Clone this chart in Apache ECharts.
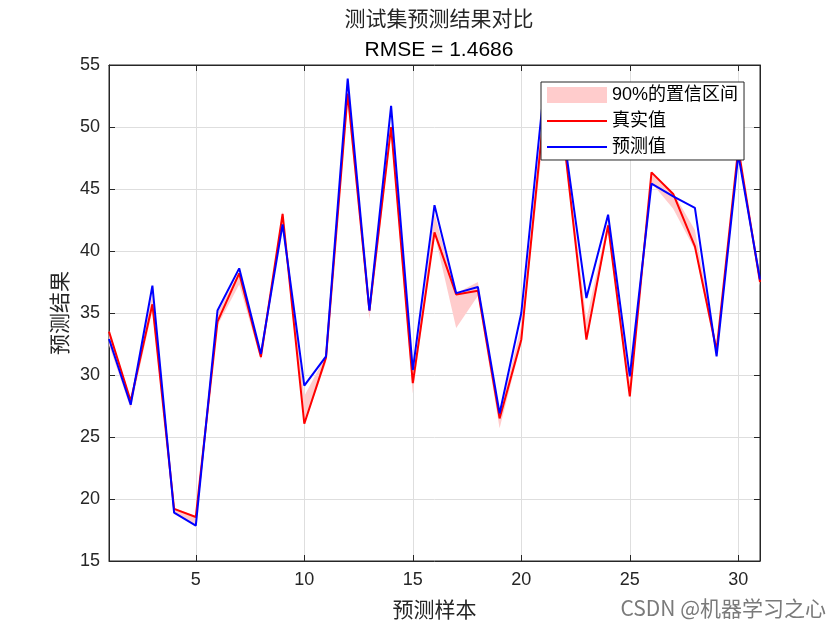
<!DOCTYPE html>
<html>
<head>
<meta charset="utf-8">
<script src="https://cdn.jsdelivr.net/npm/echarts@6/dist/echarts.min.js"></script>
<style>html,body{margin:0;padding:0;background:#fff;}#c{width:840px;height:630px;}</style>
</head>
<body>
<div id="c"></div>
<script>
var samples = [1,2,3,4,5,6,7,8,9,10,11,12,13,14,15,16,17,18,19,20,21,22,23,24,25,26,27,28,29,30,31];
var realValues = [33.5,27.9,35.7,19.2,18.55,34.3,38.2,31.45,43.0,26.07,31.4,52.7,35.2,50.0,29.35,41.5,36.5,36.8,26.5,32.85,50.4,48.4,32.85,42.07,28.27,46.34,44.6,40.37,32.0,48.3,37.5];
var predValues = [32.9,27.6,37.2,18.9,17.85,35.2,38.6,31.7,42.15,29.14,31.5,53.9,35.2,51.7,30.4,43.7,36.6,37.1,26.9,35.0,52.3,48.8,36.2,42.93,29.89,45.43,44.4,43.47,31.5,47.77,37.7];
var ciLower = [32.4,27.3,35.2,18.8,17.9,34.0,37.3,31.2,42.2,26.0,31.0,52.0,34.5,49.5,28.5,41.4,33.8,36.4,25.7,32.6,49.0,47.8,32.8,41.6,28.2,45.5,43.4,40.1,31.5,47.6,37.2];
var ciUpper = [33.6,28.1,36.5,19.3,18.6,35.0,38.3,31.8,43.2,28.3,31.6,53.0,35.4,50.3,29.6,43.0,36.6,37.5,26.8,34.0,51.0,48.8,34.5,42.4,29.5,46.4,44.7,41.7,32.3,48.4,37.8];
var yTicks = [15,20,25,30,35,40,45,50,55];

var ciWidth = ciUpper.map(function(v,i){ return +(v - ciLower[i]).toFixed(3); });
var txt = '#262626';
var every5 = function(i){ return (samples[i] % 5) === 0; };

var chart = echarts.init(document.getElementById('c'), null, {renderer:'canvas'});
chart.setOption({
  animation: false,
  backgroundColor: '#fff',
  title: [
    {text: '测试集预测结果对比', left: 434, top: 3, textAlign: 'center',
     textStyle: {fontFamily: 'Noto Sans CJK SC', fontSize: 21, fontWeight: 'normal', color: txt}},
    {text: 'RMSE = 1.4686', left: 434, top: 35, textAlign: 'center',
     textStyle: {fontFamily: 'Liberation Sans', fontSize: 21, fontWeight: 'normal', color: '#000'}}
  ],
  grid: {left: 109, right: 80, top: 65, bottom: 69, show: true, borderColor: txt, borderWidth: 1, backgroundColor: '#fff'},
  legend: {
    orient: 'vertical', left: 541, top: 82, padding: [4, 6, 4, 5], itemGap: 8,
    itemWidth: 60, itemHeight: 16, backgroundColor: '#fff', borderColor: txt, borderWidth: 1,
    textStyle: {fontFamily: 'Liberation Sans, Noto Sans CJK SC', fontSize: 18, color: '#000', padding: [0,0,0,0]},
    data: [
      {name: '90%的置信区间', icon: 'rect', itemStyle: {color: '#ffcccc'}},
      {name: '真实值', itemStyle: {opacity: 0}},
      {name: '预测值', itemStyle: {opacity: 0}}
    ]
  },
  xAxis: [
    {type: 'category', data: samples, boundaryGap: false,
     name: '预测样本', nameLocation: 'middle', nameGap: 38,
     nameTextStyle: {fontFamily: 'Noto Sans CJK SC', fontSize: 21, color: txt},
     axisLine: {show: true, lineStyle: {color: txt, width: 1}},
     axisTick: {show: true, inside: true, length: 6, interval: every5, lineStyle: {color: txt}},
     axisLabel: {show: true, interval: every5, margin: 10, fontFamily: 'Liberation Sans', fontSize: 18, color: txt},
     splitLine: {show: true, interval: every5, lineStyle: {color: '#dedede', width: 1}}},
    {type: 'category', data: samples, boundaryGap: false, position: 'top',
     axisLine: {show: true, lineStyle: {color: txt, width: 1}},
     axisTick: {show: true, inside: true, length: 6, interval: every5, lineStyle: {color: txt}},
     axisLabel: {show: false}, splitLine: {show: false}}
  ],
  yAxis: [
    {type: 'value', min: yTicks[0], max: yTicks[yTicks.length-1], interval: 5,
     name: '预测结果', nameLocation: 'middle', nameGap: 36,
     nameTextStyle: {fontFamily: 'Noto Sans CJK SC', fontSize: 21, color: txt},
     axisLine: {show: true, lineStyle: {color: txt, width: 1}},
     axisTick: {show: true, inside: true, length: 6, lineStyle: {color: txt}},
     axisLabel: {margin: 9, fontFamily: 'Liberation Sans', fontSize: 18, color: txt},
     splitLine: {show: true, lineStyle: {color: '#dedede', width: 1}}},
    {type: 'value', min: yTicks[0], max: yTicks[yTicks.length-1], interval: 5, position: 'right',
     axisLine: {show: true, lineStyle: {color: txt, width: 1}},
     axisTick: {show: true, inside: true, length: 6, lineStyle: {color: txt}},
     axisLabel: {show: false}, splitLine: {show: false}}
  ],
  series: [
    {name: 'ciBase', type: 'line', stack: 'ci', data: ciLower, symbol: 'none', silent: true,
     lineStyle: {opacity: 0}, itemStyle: {color: '#ffcccc'}},
    {name: '90%的置信区间', type: 'line', stack: 'ci', data: ciWidth, symbol: 'none', silent: true,
     color: '#ffcccc', itemStyle: {color: '#ffcccc'},
     lineStyle: {opacity: 0}, areaStyle: {color: '#ffcccc', opacity: 1}},
    {name: '真实值', type: 'line', data: realValues, symbol: 'none', color: '#ff0000',
     lineStyle: {color: '#ff0000', width: 2}},
    {name: '预测值', type: 'line', data: predValues, symbol: 'none', color: '#0000ff',
     lineStyle: {color: '#0000ff', width: 2}}
  ],
  graphic: [
    {type: 'text', right: 14, top: 598, z: 100,
     style: {text: 'CSDN @机器学习之心', fontFamily: 'Noto Sans CJK SC', fontSize: 21, fill: '#7a7a7a'}}
  ]
});
</script>
</body>
</html>
